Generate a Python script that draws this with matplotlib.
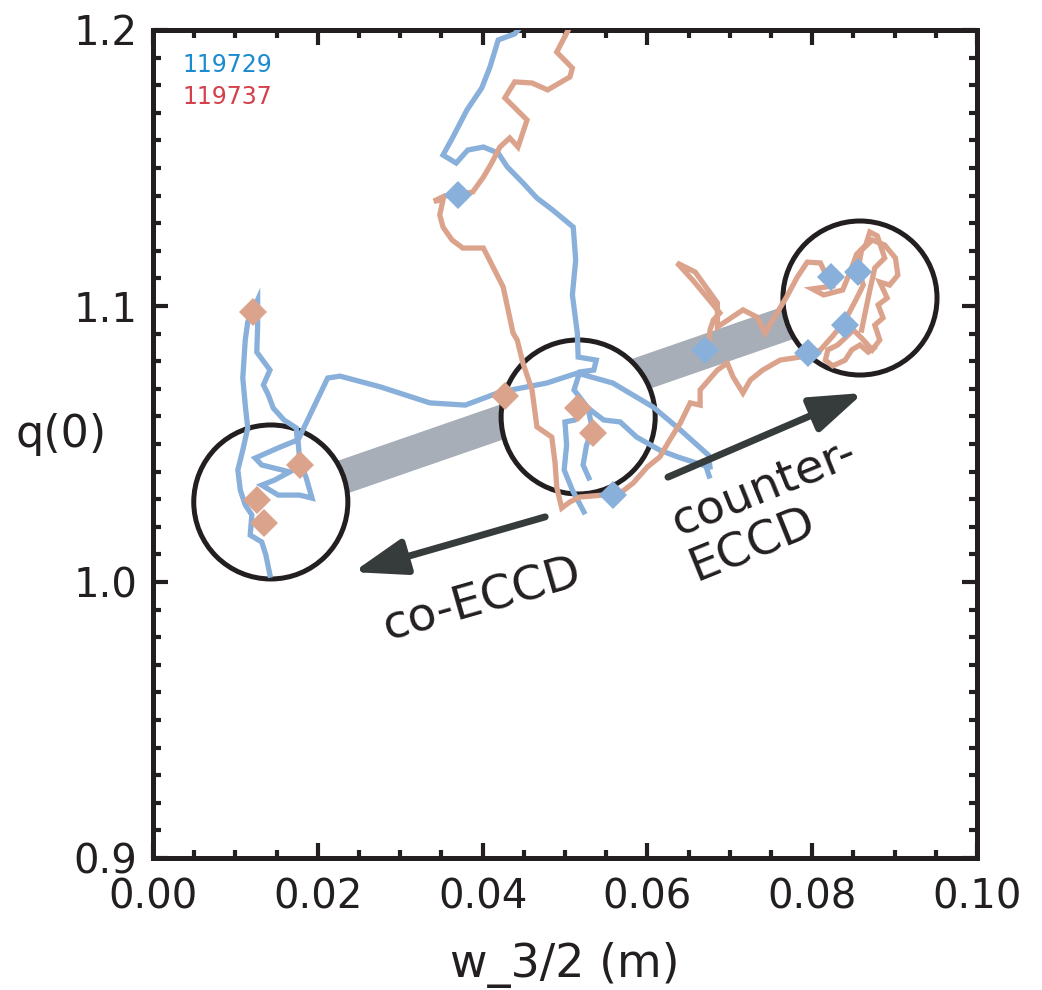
import matplotlib
matplotlib.use("Agg")
import numpy as np
from matplotlib import pyplot as plt
from matplotlib.patches import Ellipse
from matplotlib.ticker import MultipleLocator

# shot 119729: q(0) vs island width, pieces separated by nan
w_119729 = [
    0.0142, 0.0137, 0.0132, 0.0118, 0.0120, 0.0112, 0.0106, 0.0103, 0.0109, 0.0115,
    0.0112, 0.0109, 0.0112, 0.0115, 0.0127, 0.0127, 0.0126, 0.0142, 0.0134, 0.0140,
    0.0146, 0.0159, 0.0174, 0.0175, 0.0152, 0.0124, 0.0132, 0.0166, 0.0148, 0.0132,
    0.0152, 0.0178, 0.0193, 0.0186, 0.0178, 0.0176, 0.0212, 0.0227, 0.0276, 0.0336,
    0.0379, 0.0421, 0.0478, 0.0515, 0.0558, 0.0607, 0.0640, 0.0674, 0.0676,
    np.nan,
    0.0443, 0.0439, 0.0419, 0.0409, 0.0399, 0.0381, 0.0364, 0.0352, 0.0368, 0.0382,
    0.0401, 0.0419, 0.0430, 0.0449, 0.0466, 0.0485, 0.0510, 0.0513, 0.0509, 0.0515,
    0.0516, 0.0538, 0.0535, 0.0518, 0.0511, 0.0528, 0.0512, 0.0500, 0.0502, 0.0499,
    0.0509, 0.0523,
    np.nan,
    0.0529, 0.0522, 0.0526, 0.0533, 0.0528, 0.0547, 0.0567, 0.0587, 0.0615, 0.0637,
    0.0671, 0.0675,
]
q_119729 = [
    1.0025, 1.0098, 1.0145, 1.0170, 1.0243, 1.0279, 1.0333, 1.0406, 1.0478, 1.0558,
    1.0641, 1.0739, 1.0877, 1.0942, 1.1022, 1.0924, 1.0833, 1.0768, 1.0714, 1.0678,
    1.0630, 1.0587, 1.0558, 1.0514, 1.0486, 1.0449, 1.0424, 1.0399, 1.0370, 1.0351,
    1.0315, 1.0315, 1.0304, 1.0377, 1.0442, 1.0514, 1.0739, 1.0746, 1.0707, 1.0649,
    1.0641, 1.0688, 1.0721, 1.0757, 1.0721, 1.0634, 1.0551, 1.0460, 1.0417,
    np.nan,
    1.2000, 1.1986, 1.1964, 1.1866, 1.1790, 1.1710, 1.1612, 1.1547, 1.1518, 1.1565,
    1.1576, 1.1554, 1.1504, 1.1446, 1.1391, 1.1348, 1.1286, 1.1167, 1.1040, 1.0902,
    1.0815, 1.0804, 1.0768, 1.0761, 1.0696, 1.0630, 1.0587, 1.0580, 1.0496, 1.0406,
    1.0333, 1.0254,
    np.nan,
    1.0377, 1.0424, 1.0493, 1.0558, 1.0630, 1.0587, 1.0580, 1.0525, 1.0478, 1.0453,
    1.0420, 1.0384,
]

# shot 119737
w_119737 = [
    0.0504, 0.0490, 0.0509, 0.0506, 0.0479, 0.0460, 0.0439, 0.0427, 0.0454, 0.0443,
    0.0433, 0.0421, 0.0411, 0.0401, 0.0388, 0.0381, 0.0354, 0.0341, 0.0352, 0.0348,
    0.0352, 0.0363, 0.0376, 0.0401, 0.0425, 0.0437, 0.0442, 0.0449, 0.0460, 0.0466,
    0.0484, 0.0488, 0.0490, 0.0496, 0.0506, 0.0518, 0.0546, 0.0567, 0.0583, 0.0600,
    0.0615, 0.0627, 0.0640, 0.0652, 0.0664, 0.0664, 0.0685, 0.0697, 0.0704, 0.0716,
    0.0725, 0.0740, 0.0761, 0.0785, 0.0810, 0.0824, 0.0834, 0.0842, 0.0853, 0.0862,
    0.0856, 0.0860, 0.0873, 0.0888, 0.0901, 0.0904, 0.0894, 0.0882, 0.0891, 0.0880,
    0.0886, 0.0876, 0.0882, 0.0873, 0.0860, 0.0850, 0.0840, 0.0831, 0.0819, 0.0816,
    0.0825, 0.0840, 0.0848, 0.0858, 0.0868, 0.0875,
    np.nan,
    0.0674, 0.0676, 0.0680, 0.0688, 0.0655, 0.0636, 0.0658, 0.0685, 0.0685, 0.0716,
    0.0733, 0.0743, 0.0752, 0.0769, 0.0782, 0.0794, 0.0810, 0.0818, 0.0824, 0.0800,
    0.0814, 0.0837, 0.0846, 0.0854, 0.0865, 0.0870, 0.0879, 0.0888, 0.0876, 0.0870,
    0.0865, 0.0860,
]
q_119737 = [
    1.2000, 1.1920, 1.1862, 1.1830, 1.1783, 1.1808, 1.1812, 1.1754, 1.1674, 1.1576,
    1.1609, 1.1576, 1.1518, 1.1467, 1.1413, 1.1409, 1.1399, 1.1380, 1.1384, 1.1330,
    1.1286, 1.1239, 1.1210, 1.1210, 1.1069, 1.0902, 1.0877, 1.0793, 1.0696, 1.0562,
    1.0525, 1.0431, 1.0344, 1.0268, 1.0290, 1.0308, 1.0315, 1.0322, 1.0359, 1.0417,
    1.0453, 1.0514, 1.0576, 1.0649, 1.0641, 1.0696, 1.0768, 1.0793, 1.0743, 1.0685,
    1.0732, 1.0768, 1.0804, 1.0815, 1.0841, 1.0888, 1.0924, 1.0960, 1.1022, 1.1076,
    1.1138, 1.1203, 1.1239, 1.1221, 1.1174, 1.1112, 1.1076, 1.1087, 1.1029, 1.1004,
    1.0957, 1.0931, 1.0877, 1.0841, 1.0884, 1.0913, 1.0884, 1.0859, 1.0841, 1.0804,
    1.0783, 1.0804, 1.0841, 1.0859, 1.0833, 1.0848,
    np.nan,
    1.0859, 1.0913, 1.0949, 1.0975, 1.1094, 1.1156, 1.1123, 1.1011, 1.0924, 1.0986,
    1.0960, 1.0902, 1.0949, 1.1033, 1.1105, 1.1159, 1.1156, 1.1105, 1.1072, 1.1062,
    1.1040, 1.1058, 1.1123, 1.1188, 1.1221, 1.1268, 1.1254, 1.1174, 1.1138, 1.1058,
    1.0986, 1.0913,
]

# time-slice markers
w_mark_blue = [0.0370, 0.0670, 0.0558, 0.0795, 0.0823, 0.0856, 0.0840]
q_mark_blue = [1.1402, 1.0841, 1.0315, 1.0830, 1.1105, 1.1123, 1.0931]
w_mark_red = [0.0121, 0.0178, 0.0126, 0.0135, 0.0427, 0.0516, 0.0534]
q_mark_red = [1.0978, 1.0424, 1.0297, 1.0214, 1.0674, 1.0630, 1.0540]

# operating regimes (circle centres) and the trend band between the outer two
regime_w = [0.0143, 0.0516, 0.0858]
regime_q = [1.0290, 1.0598, 1.1029]
regime_dw = 0.0187
regime_dq = 0.0558

xticks = [0.00, 0.02, 0.04, 0.06, 0.08, 0.10]
xtick_labels = ["0.00", "0.02", "0.04", "0.06", "0.08", "0.10"]
yticks = [0.9, 1.0, 1.1, 1.2]
ytick_labels = ["0.9", "1.0", "1.1", "1.2"]

blue = "#88b0da"
salmon = "#dca38c"
ink = "#231f20"
arrow_col = "#363b3b"

plt.rcParams["font.family"] = ["DejaVu Sans"]

fig = plt.figure(figsize=(10.42, 9.9), dpi=100)
ax = fig.add_axes([0.1468, 0.1333, 0.7908, 0.8364])

ax.plot([regime_w[0], regime_w[2]], [regime_q[0], regime_q[2]],
        color="#a7aeb8", lw=24.5, solid_capstyle="butt", zorder=1)

for cw, cq in zip(regime_w, regime_q):
    ax.add_patch(Ellipse((cw, cq), regime_dw, regime_dq, facecolor="white",
                         edgecolor=ink, lw=3.6, zorder=2))

ax.plot(w_119729, q_119729, color=blue, lw=3.8, zorder=3, solid_joinstyle="miter")
ax.plot(w_119737, q_119737, color=salmon, lw=3.8, zorder=3, solid_joinstyle="miter")

ax.plot(w_mark_blue, q_mark_blue, "D", color=blue, ms=14, mew=0, zorder=4)
ax.plot(w_mark_red, q_mark_red, "D", color=salmon, ms=14, mew=0, zorder=4)

arrow_props = dict(arrowstyle="-|>,head_length=1.6,head_width=0.55", lw=5,
                   color=arrow_col, shrinkA=0, shrinkB=0, mutation_scale=20)
ax.annotate("", xy=(0.0243, 1.0036), xytext=(0.0476, 1.0236),
            arrowprops=arrow_props, zorder=5)
ax.annotate("", xy=(0.0862, 1.0685), xytext=(0.0625, 1.0380),
            arrowprops=arrow_props, zorder=5)

ax.text(0.0400, 0.9935, "co-ECCD", fontsize=34, color=ink, rotation=16,
        rotation_mode="anchor", ha="center", va="center")
ax.text(0.0753, 1.0258, "counter-\nECCD", fontsize=34, color=ink, rotation=22,
        rotation_mode="anchor", ha="center", va="center", multialignment="left",
        linespacing=1.1)

ax.text(0.036, 0.958, "119729", transform=ax.transAxes, fontsize=17,
        color="#1a8bd0", va="center", ha="left")
ax.text(0.036, 0.919, "119737", transform=ax.transAxes, fontsize=17,
        color="#d4404c", va="center", ha="left")

ax.set_xlim(0.0, 0.1)
ax.set_ylim(0.9, 1.2)
ax.set_xticks(xticks)
ax.set_xticklabels(xtick_labels)
ax.set_yticks(yticks)
ax.set_yticklabels(ytick_labels)
ax.xaxis.set_minor_locator(MultipleLocator(0.005))
ax.yaxis.set_minor_locator(MultipleLocator(0.01))
ax.tick_params(which="both", direction="in", top=True, right=True,
               color=ink, width=3, labelsize=29, labelcolor=ink)
ax.tick_params(which="major", length=11)
ax.tick_params(which="minor", length=6)
ax.tick_params(axis="x", pad=14)
ax.tick_params(axis="y", pad=11)
for sp in ax.spines.values():
    sp.set_linewidth(3.6)
    sp.set_color(ink)

ax.set_xlabel("w_3/2 (m)", fontsize=33, color=ink, va="center")
ax.xaxis.set_label_coords(0.5, -0.129)
ax.set_ylabel("q(0)", fontsize=32, color=ink, rotation=0, ha="right", va="center")
ax.yaxis.set_label_coords(-0.056, 0.511)

fig.savefig("out.png", dpi=100)
